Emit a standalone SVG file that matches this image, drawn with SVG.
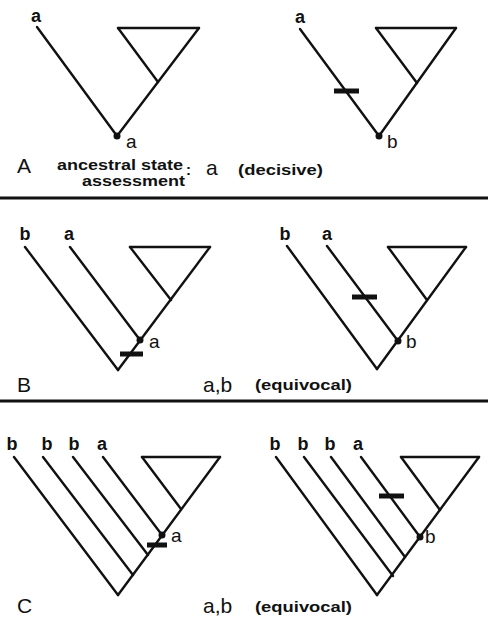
<svg xmlns="http://www.w3.org/2000/svg" width="488" height="620" viewBox="0 0 488 620">
<style>
.br{stroke:#111;stroke-width:2.4;fill:none;stroke-linecap:round}
.bar{stroke:#111;stroke-width:5;fill:none}
.sep{stroke:#111;stroke-width:3}
.dot{fill:#111}
.tip{font-family:"Liberation Sans",Arial,sans-serif;font-weight:bold;font-size:18px;fill:#111;text-anchor:middle}
.nl{font-family:"Liberation Sans",Arial,sans-serif;font-size:19px;fill:#111}
.pl{font-family:"Liberation Sans",Arial,sans-serif;font-size:21px;fill:#111}
.st{font-family:"Liberation Sans",Arial,sans-serif;font-size:21px;fill:#111}
.sm{font-family:"Liberation Sans",Arial,sans-serif;font-weight:bold;font-size:15px;fill:#111}
</style>
<rect width="488" height="620" fill="#fff"/>
<g id="connectors">
<line class="br" x1="37" y1="27" x2="117" y2="136"/>
<line class="br" x1="117" y1="136" x2="199" y2="28"/>
<line class="br" x1="118" y1="28" x2="199" y2="28"/>
<line class="br" x1="118" y1="28" x2="158" y2="82"/>
<line class="br" x1="300" y1="29" x2="379" y2="136"/>
<line class="br" x1="379" y1="136" x2="456" y2="28"/>
<line class="br" x1="376" y1="28" x2="456" y2="28"/>
<line class="br" x1="376" y1="28" x2="417" y2="83"/>
<line class="bar" x1="334" y1="91" x2="359" y2="91"/>
<line class="br" x1="25" y1="247" x2="118" y2="370"/>
<line class="br" x1="70" y1="247" x2="140" y2="340"/>
<line class="br" x1="118" y1="370" x2="210" y2="247"/>
<line class="br" x1="130" y1="247" x2="210" y2="247"/>
<line class="br" x1="130" y1="247" x2="171" y2="300"/>
<line class="bar" x1="120" y1="354" x2="143" y2="354"/>
<line class="br" x1="287" y1="246" x2="377" y2="369"/>
<line class="br" x1="327" y1="246" x2="398" y2="341"/>
<line class="br" x1="377" y1="369" x2="466" y2="247"/>
<line class="br" x1="388" y1="247" x2="466" y2="247"/>
<line class="br" x1="388" y1="247" x2="427" y2="300"/>
<line class="bar" x1="352" y1="297" x2="377" y2="297"/>
<line class="br" x1="14" y1="457" x2="118" y2="595"/>
<line class="br" x1="43" y1="457" x2="133" y2="575"/>
<line class="br" x1="73" y1="457" x2="148" y2="555"/>
<line class="br" x1="103" y1="457" x2="162" y2="535"/>
<line class="br" x1="118" y1="595" x2="220" y2="457"/>
<line class="br" x1="142" y1="457" x2="220" y2="457"/>
<line class="br" x1="142" y1="457" x2="181" y2="509"/>
<line class="bar" x1="147" y1="545" x2="167" y2="545"/>
<line class="br" x1="276" y1="457" x2="377" y2="595"/>
<line class="br" x1="304" y1="457" x2="393" y2="576"/>
<line class="br" x1="331" y1="457" x2="405" y2="557"/>
<line class="br" x1="361" y1="457" x2="420" y2="537"/>
<line class="br" x1="377" y1="595" x2="479" y2="457"/>
<line class="br" x1="401" y1="457" x2="479" y2="457"/>
<line class="br" x1="401" y1="457" x2="440" y2="510"/>
<line class="bar" x1="379" y1="496" x2="404" y2="496"/>
<line class="sep" x1="0" y1="198" x2="488" y2="198"/>
<line class="sep" x1="0" y1="401" x2="488" y2="401"/>
</g>
<g id="panelA-left">
<text class="tip" x="36" y="22">a</text>
<circle class="dot" cx="117" cy="136" r="3.5"/>
<text class="nl" x="126" y="148">a</text>
</g>
<g id="panelA-right">
<text class="tip" x="300" y="23">a</text>
<circle class="dot" cx="379" cy="136" r="3.5"/>
<text class="nl" x="387" y="148">b</text>
</g>
<g id="panelA-caption">
<text class="pl" x="17" y="173">A</text>
<text class="sm" x="57" y="170" textLength="126" lengthAdjust="spacingAndGlyphs">ancestral state</text>
<text class="sm" x="186" y="175">:</text>
<text class="sm" x="82" y="186" textLength="103" lengthAdjust="spacingAndGlyphs">assessment</text>
<text class="st" x="206" y="175">a</text>
<text class="sm" x="238" y="175" textLength="85" lengthAdjust="spacingAndGlyphs">(decisive)</text>
</g>
<g id="panelB-left">
<text class="tip" x="25" y="240">b</text>
<text class="tip" x="69" y="240">a</text>
<circle class="dot" cx="140" cy="340" r="3.5"/>
<text class="nl" x="149" y="348">a</text>
</g>
<g id="panelB-right">
<text class="tip" x="285" y="240">b</text>
<text class="tip" x="327" y="240">a</text>
<circle class="dot" cx="398" cy="341" r="3.5"/>
<text class="nl" x="406" y="348">b</text>
</g>
<g id="panelB-caption">
<text class="pl" x="17" y="392">B</text>
<text class="st" x="203" y="392">a,b</text>
<text class="sm" x="255" y="390" textLength="97" lengthAdjust="spacingAndGlyphs">(equivocal)</text>
</g>
<g id="panelC-left">
<text class="tip" x="12" y="450">b</text>
<text class="tip" x="47" y="450">b</text>
<text class="tip" x="74" y="450">b</text>
<text class="tip" x="102" y="450">a</text>
<circle class="dot" cx="162" cy="535" r="3.5"/>
<text class="nl" x="171" y="542">a</text>
</g>
<g id="panelC-right">
<text class="tip" x="275" y="450">b</text>
<text class="tip" x="303" y="450">b</text>
<text class="tip" x="330" y="450">b</text>
<text class="tip" x="358" y="450">a</text>
<circle class="dot" cx="420" cy="537" r="3.5"/>
<text class="nl" x="425" y="543">b</text>
</g>
<g id="panelC-caption">
<text class="pl" x="17" y="613">C</text>
<text class="st" x="203" y="613">a,b</text>
<text class="sm" x="255" y="612" textLength="97" lengthAdjust="spacingAndGlyphs">(equivocal)</text>
</g>
</svg>
